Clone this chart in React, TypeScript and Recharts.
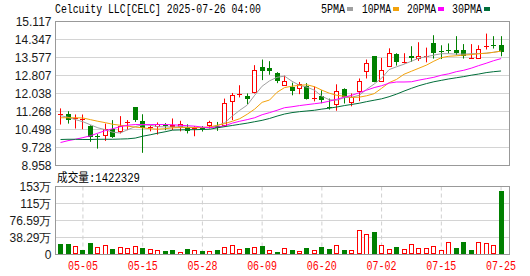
import { Bar, CartesianGrid, ComposedChart, Line, XAxis, YAxis } from "recharts";

const RED = "#ff0000";
const GREEN = "#008000";
const MA5_COLOR = "#a0a0a0";
const MA10_COLOR = "#f2a20c";
const MA20_COLOR = "#ff00ff";
const MA30_COLOR = "#006e3a";

const dates = [
  "04-30", "05-01", "05-02", "05-05", "05-06", "05-07", "05-08", "05-09", "05-12", "05-13",
  "05-14", "05-15", "05-16", "05-19", "05-20", "05-21", "05-22", "05-23", "05-27", "05-28",
  "05-29", "05-30", "06-02", "06-03", "06-04", "06-05", "06-06", "06-09", "06-10", "06-11",
  "06-12", "06-13", "06-16", "06-17", "06-18", "06-20", "06-23", "06-24", "06-25", "06-26",
  "06-27", "06-30", "07-01", "07-02", "07-03", "07-07", "07-08", "07-09", "07-10", "07-11",
  "07-14", "07-15", "07-16", "07-17", "07-18", "07-21", "07-22", "07-23", "07-24", "07-25",
];

const opens = [
  11.14, 11.14, 10.96, 10.93, 10.64, 10.21, 10.22, 10.51, 10.4, 10.79,
  11.44, 10.85, 10.575, 10.61, 10.71, 10.6, 10.61, 10.61, 10.545, 10.55,
  10.61, 10.64, 10.64, 11.68, 12.01, 11.92, 12.06, 13.15, 13.12, 12.91,
  12.36, 12.32, 12.24, 12.35, 11.82, 11.92, 11.46, 11.55, 12.21, 11.61,
  12.1, 12.96, 13.63, 12.55, 13.19, 13.72, 13.38, 13.63, 13.5, 13.63,
  14.18, 13.87, 13.895, 13.89, 13.89, 13.55, 13.53, 14.08, 14.11, 14.1,
];
const highs = [
  11.4, 11.28, 11.14, 11.14, 10.68, 10.3, 10.75, 10.9, 11.07, 10.9,
  11.45, 11.15, 10.68, 10.8, 10.77, 10.97, 10.87, 10.72, 10.64, 10.64,
  10.87, 10.82, 11.82, 12.06, 12.39, 12.04, 13.25, 13.49, 13.42, 12.95,
  12.8, 12.5, 12.53, 12.48, 12.34, 12.18, 11.82, 12.43, 12.26, 12.04,
  12.68, 13.49, 13.63, 13.56, 13.97, 13.76, 13.76, 14.06, 14.23, 14.0,
  14.53, 14.1, 14.18, 14.49, 14.15, 14.15, 14.1, 14.6, 14.49, 14.49,
];
const lows = [
  10.71, 10.75, 10.54, 10.51, 9.97, 9.68, 10.01, 10.14, 10.33, 10.47,
  10.82, 9.5, 10.42, 10.28, 10.47, 10.47, 10.42, 10.33, 10.21, 10.41,
  10.54, 10.44, 10.61, 10.9, 11.87, 11.58, 12.04, 12.61, 12.84, 12.48,
  12.36, 11.96, 12.01, 11.78, 11.7, 11.62, 11.35, 11.3, 11.61, 11.49,
  11.71, 12.68, 12.52, 12.53, 13.19, 13.23, 13.32, 13.39, 13.43, 13.37,
  13.53, 13.51, 13.75, 13.68, 13.53, 13.53, 13.53, 13.92, 13.96, 13.63,
];
const closes = [
  11.15, 10.88, 10.97, 10.94, 10.15, 10.2, 10.54, 10.18, 10.64, 10.8,
  10.87, 10.57, 10.585, 10.75, 10.7, 10.68, 10.75, 10.42, 10.555, 10.54,
  10.8, 10.55, 11.61, 11.96, 12.02, 11.78, 13.06, 13.0, 13.01, 12.56,
  12.58, 12.15, 12.45, 11.81, 11.83, 11.73, 11.45, 12.14, 11.86, 11.88,
  12.56, 13.35, 12.52, 13.06, 13.79, 13.39, 13.39, 13.56, 13.63, 13.645,
  13.77, 13.85, 13.88, 13.77, 13.645, 13.56, 13.96, 14.09, 14.1, 13.82,
];
// close of the session before 04-30 (only used for the volume colour)
const closeBefore = 11.3;

const volumes = [
  241000, 241000, 189000, 106000, 264000, 166000, 225000, 128000, 158000, 143000,
  189000, 151000, 122000, 106000, 83000, 106000, 61000, 128000, 106000, 83000,
  83000, 106000, 166000, 212000, 122000, 151000, 166000, 196000, 99000, 61000,
  143000, 106000, 76000, 151000, 99000, 173000, 128000, 212000, 106000, 99000,
  550000, 466000, 496000, 212000, 122000, 173000, 122000, 234000, 143000, 143000,
  189000, 106000, 286000, 151000, 286000, 106000, 286000, 264000, 212000, 1422329,
];

const ma5 = [
  11.09, 11.02, 10.92, 10.83, 10.7, 10.57, 10.49, 10.38, 10.35, 10.49,
  10.62, 10.7, 10.68, 10.62, 10.61, 10.6, 10.62, 10.6, 10.58, 10.58,
  10.58, 10.66, 10.79, 11.07, 11.32, 11.54, 11.96, 12.35, 12.58, 12.73,
  12.78, 12.56, 12.39, 12.31, 12.18, 11.92, 11.77, 11.75, 11.86, 11.88,
  11.96, 12.22, 12.44, 12.69, 13.06, 13.18, 13.29, 13.42, 13.55, 13.61,
  13.68, 13.74, 13.74, 13.72, 13.72, 13.74, 13.74, 13.76, 13.8, 13.85,
];
const ma10 = [
  11.0, 11.0, 11.0, 10.99, 10.92, 10.85, 10.79, 10.72, 10.68, 10.64,
  10.6, 10.57, 10.53, 10.51, 10.53, 10.57, 10.58, 10.58, 10.58, 10.58,
  10.61, 10.68, 10.75, 10.85, 10.96, 11.15, 11.37, 11.66, 11.76, 12.09,
  12.29, 12.35, 12.39, 12.41, 12.33, 12.18, 12.05, 11.96, 11.92, 11.87,
  11.88, 11.94, 12.03, 12.26, 12.5, 12.64, 12.86, 12.99, 13.12, 13.25,
  13.42, 13.57, 13.63, 13.65, 13.68, 13.7, 13.74, 13.76, 13.8, 13.85,
];
const ma20 = [
  9.94, 10.02, 10.08, 10.15, 10.23, 10.34, 10.45, 10.53, 10.62, 10.68,
  10.71, 10.71, 10.71, 10.71, 10.71, 10.7, 10.68, 10.66, 10.64, 10.6,
  10.58, 10.6, 10.66, 10.77, 10.85, 10.92, 11.0, 11.13, 11.22, 11.32,
  11.43, 11.47, 11.52, 11.56, 11.6, 11.64, 11.71, 11.79, 11.88, 11.96,
  12.07, 12.18, 12.29, 12.37, 12.48, 12.53, 12.53, 12.54, 12.61, 12.67,
  12.73, 12.82, 12.88, 12.97, 13.03, 13.12, 13.23, 13.33, 13.44, 13.53,
];
const ma30 = [
  10.07, 10.08, 10.08, 10.07, 10.07, 10.08, 10.08, 10.08, 10.09, 10.1,
  10.13, 10.21, 10.27, 10.34, 10.4, 10.47, 10.48, 10.49, 10.49, 10.5,
  10.51, 10.57, 10.62, 10.67, 10.72, 10.77, 10.83, 10.89, 10.97, 11.07,
  11.16, 11.22, 11.26, 11.29, 11.32, 11.37, 11.41, 11.46, 11.52, 11.57,
  11.62, 11.69, 11.75, 11.81, 11.9, 12.01, 12.14, 12.26, 12.37, 12.46,
  12.54, 12.6, 12.66, 12.71, 12.76, 12.82, 12.87, 12.93, 12.97, 13.0,
];

const tickDates = ["05-05", "05-15", "05-28", "06-09", "06-20", "07-02", "07-15", "07-25"];
const priceTicks = [8.958, 9.728, 10.498, 11.268, 12.038, 12.807, 13.577, 14.347, 15.117];
const volTicks = [0, 382900, 765900, 1148800, 1531700];

const rows = dates.map((date, i) => ({
  date,
  open: opens[i],
  high: highs[i],
  low: lows[i],
  close: closes[i],
  volume: volumes[i],
  volUp: closes[i] >= (i === 0 ? closeBefore : closes[i - 1]),
  ma5: ma5[i],
  ma10: ma10[i],
  ma20: ma20[i],
  ma30: ma30[i],
}));

const xPad = { left: 1.3, right: 4.7 };

const Candle = (props: any) => {
  const { x, y, width, height, payload } = props;
  if (x == null || y == null) return null;
  const top = Math.min(y, y + height);
  const h = Math.abs(height);
  const { open, high, low, close } = payload;
  const k = high > low ? h / (high - low) : 0;
  const yo = top + (high - open) * k;
  const yc = top + (high - close) * k;
  const c = Math.floor(x + width / 2);
  const color = close >= open ? RED : GREEN;
  const bTop = Math.min(yo, yc);
  const bH = Math.abs(yo - yc);
  let body;
  if (bH < 1.2) {
    body = <line x1={c - 2} x2={c + 3} y1={Math.round(bTop) + 0.5} y2={Math.round(bTop) + 0.5} stroke={color} />;
  } else if (close > open) {
    body = <rect x={c - 1.5} y={Math.round(bTop) + 0.5} width={4} height={Math.max(Math.round(bH) - 1, 1)} fill="#fff" stroke={color} />;
  } else {
    body = <rect x={c - 2} y={Math.round(bTop)} width={5} height={Math.round(bH)} fill={color} />;
  }
  return (
    <g>
      <line x1={c + 0.5} x2={c + 0.5} y1={top} y2={top + h} stroke={color} />
      {body}
    </g>
  );
};

const VolBar = (props: any) => {
  const { x, y, width, height, payload } = props;
  if (x == null || y == null) return null;
  const top = Math.min(y, y + height);
  const h = Math.abs(height);
  const c = Math.floor(x + width / 2);
  if (payload.volUp) {
    return <rect x={c - 1.5} y={Math.round(top) + 0.5} width={4} height={Math.max(Math.round(h) - 1, 1)} fill="#fff" stroke={RED} />;
  }
  return <rect x={c - 2} y={Math.round(top)} width={5} height={Math.round(h)} fill={GREEN} />;
};

const DateTick = (props: any) => {
  const { x, y, payload } = props;
  return (
    <text x={x} y={y + 7} textAnchor="middle" fill={RED} fontSize={12} fontFamily="Liberation Mono" textLength={30} lengthAdjust="spacingAndGlyphs">
      {payload.value}
    </text>
  );
};

const fmtVol = (v: number) => {
  if (v === 0) return "0";
  const w = v / 10000;
  return (w >= 100 ? Math.round(w).toString() : w.toFixed(2)) + "万";
};

const axisText = { fontSize: 12, fontFamily: "Liberation Sans", fill: "#1a1a1a" };
const monoFont = "Liberation Mono, Noto Sans CJK SC";

const legendItems = [
  { label: "5PMA", x: 321, w: 24, color: MA5_COLOR },
  { label: "10PMA", x: 362, w: 29, color: MA10_COLOR },
  { label: "20PMA", x: 407, w: 29, color: MA20_COLOR },
  { label: "30PMA", x: 452, w: 30, color: MA30_COLOR },
];

export default function App() {
  return (
    <div style={{ position: "absolute", left: 0, top: 0, width: 530, height: 276, background: "#fff" }}>
      <div style={{ position: "absolute", left: 0, top: 0 }}>
        <ComposedChart width={530} height={178} data={rows} margin={{ top: 21.5, right: 20.5, bottom: 12.5, left: 0 }}>
          <CartesianGrid vertical={false} stroke="#d4d4d4" />
          <CartesianGrid horizontal={false} stroke="#cfcfcf" strokeDasharray="4 3" />
          <XAxis dataKey="date" ticks={tickDates} tick={false} tickLine={false} axisLine={false} height={0} padding={xPad} />
          <YAxis
            domain={[8.958, 15.117]}
            ticks={priceTicks}
            interval={0}
            allowDataOverflow
            width={55.5}
            tickSize={2}
            tickMargin={2}
            tickLine={false}
            axisLine={false}
            tick={axisText}
            tickFormatter={(v: number) => v.toFixed(3)}
          />
          <Bar dataKey={(d: any) => [d.low, d.high]} shape={<Candle />} isAnimationActive={false} />
          <Line dataKey="ma5" stroke={MA5_COLOR} strokeWidth={1} dot={false} type="linear" isAnimationActive={false} />
          <Line dataKey="ma10" stroke={MA10_COLOR} strokeWidth={1} dot={false} type="linear" isAnimationActive={false} />
          <Line dataKey="ma20" stroke={MA20_COLOR} strokeWidth={1} dot={false} type="linear" isAnimationActive={false} />
          <Line dataKey="ma30" stroke={MA30_COLOR} strokeWidth={1} dot={false} type="linear" isAnimationActive={false} />
        </ComposedChart>
      </div>
      <div style={{ position: "absolute", left: 0, top: 170 }}>
        <ComposedChart width={530} height={106} data={rows} margin={{ top: 16.5, right: 20.5, bottom: 0.5, left: 0 }}>
          <CartesianGrid vertical={false} stroke="#d4d4d4" />
          <CartesianGrid horizontal={false} stroke="#cfcfcf" strokeDasharray="4 3" />
          <XAxis
            dataKey="date"
            ticks={tickDates}
            interval={0}
            tickLine={false}
            axisLine={false}
            height={21}
            padding={xPad}
            tick={(p: any) => <DateTick {...p} />}
          />
          <YAxis
            domain={[0, 1531700]}
            ticks={volTicks}
            interval={0}
            allowDataOverflow
            width={55.5}
            tickSize={2}
            tickMargin={2}
            tickLine={false}
            axisLine={false}
            tick={axisText}
            tickFormatter={fmtVol}
          />
          <Bar dataKey="volume" shape={<VolBar />} isAnimationActive={false} />
        </ComposedChart>
      </div>
      <svg width={530} height={276} style={{ position: "absolute", left: 0, top: 0, pointerEvents: "none" }}>
        <rect x={55.5} y={21.5} width={454} height={144} fill="none" stroke="#999" />
        <rect x={55.5} y={186.5} width={454} height={68} fill="none" stroke="#999" />
        <text x={55} y={13} fontSize={12} fontFamily={monoFont} fill="#000" textLength={206} lengthAdjust="spacingAndGlyphs">
          Celcuity LLC[CELC] 2025-07-26 04:00
        </text>
        {legendItems.map((it) => (
          <g key={it.label}>
            <text x={it.x} y={13} fontSize={12} fontFamily={monoFont} fill="#000" textLength={it.w} lengthAdjust="spacingAndGlyphs">
              {it.label}
            </text>
            <rect x={it.x + it.w + 2} y={7} width={6} height={4} fill={it.color} />
          </g>
        ))}
        <text x={57} y={182} fontSize={12} fontFamily={monoFont} fill="#000" textLength={83} lengthAdjust="spacingAndGlyphs">
          成交量:1422329
        </text>
      </svg>
    </div>
  );
}
